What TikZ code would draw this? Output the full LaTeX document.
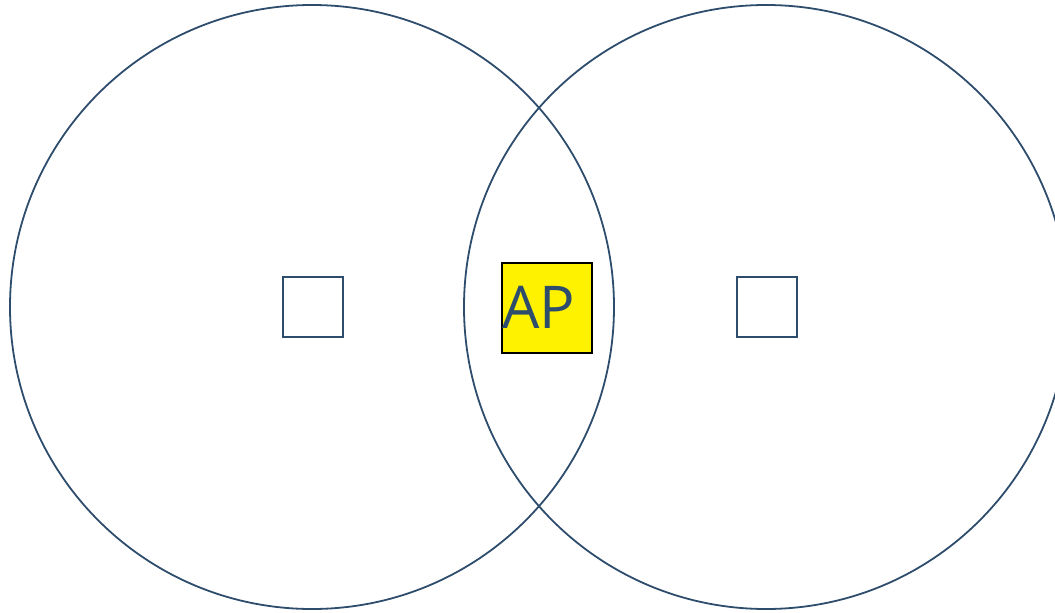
\documentclass[tikz,border=0pt]{standalone}
\usepackage{fontspec}
\setmainfont{Open Sans}
\definecolor{cline}{HTML}{2E4D6D}
\definecolor{apyellow}{HTML}{FFF200}
\begin{document}
\begin{tikzpicture}[x=1pt,y=-1pt,
  ring/.style={draw=cline,line width=1.8pt},
  sq/.style={draw=cline,line width=2pt,minimum size=60pt,inner sep=0pt},
  apbox/.style={draw=black,line width=2pt,fill=apyellow,minimum size=90pt,inner sep=0pt}]
\useasboundingbox (0,0) rectangle (1055,613);
\begin{scope}
\clip (0,0) rectangle (1055,613);
\draw[ring] (312,307) circle (302pt);
\draw[ring] (766,307) circle (302pt);
\end{scope}
\node[sq] (s1) at (312.5,307) {};
\node[sq] (s2) at (766.5,307) {};
\node[apbox] (ap) at (547,307.5) {};
\node[anchor=base west,inner sep=0pt,text=cline,font=\fontsize{59}{62}\selectfont] (aptext) at (502,328.5) {AP};
\end{tikzpicture}
\end{document}
